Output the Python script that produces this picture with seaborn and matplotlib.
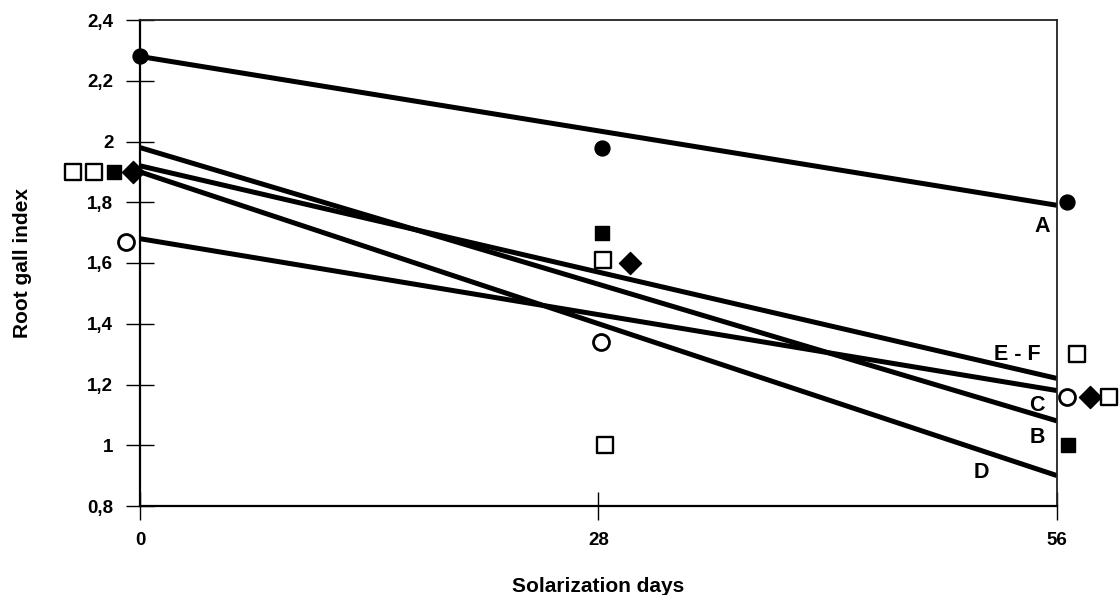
import numpy as np
import pandas as pd
import matplotlib
matplotlib.use("Agg")
import matplotlib.pyplot as plt
import seaborn as sns

# ---- data ----
days = [0, 28, 56]

# regression lines: value at day 0 and day 56
line_names = ["A", "E - F", "C", "B", "D"]
line_start = [2.28, 1.92, 1.68, 1.98, 1.90]
line_end = [1.79, 1.22, 1.18, 1.08, 0.90]

# observed means (markers), with the small horizontal display offsets (days)
circle_filled_y = [2.28, 1.98, 1.80]
circle_filled_x = [0.0, 28.2, 56.6]
square_filled_y = [1.90, 1.70, 1.00]
square_filled_x = [-1.6, 28.2, 56.7]
circle_open_y = [1.67, 1.34, 1.16]
circle_open_x = [-0.85, 28.15, 56.6]
diamond_y = [1.90, 1.60, 1.16]
diamond_x = [-0.43, 29.9, 58.0]
square_open1_y = [1.90, 1.61, 1.30]
square_open1_x = [-2.8, 28.3, 57.2]
square_open2_y = [1.90, 1.00, 1.16]
square_open2_x = [-4.1, 28.4, 59.2]

# line label positions
label_x = [55.1, 53.6, 54.8, 54.8, 51.4]
label_y = [1.72, 1.30, 1.13, 1.025, 0.91]

yticks = [0.8, 1.0, 1.2, 1.4, 1.6, 1.8, 2.0, 2.2, 2.4]
ytick_labels = ["0,8", "1", "1,2", "1,4", "1,6", "1,8", "2", "2,2", "2,4"]
xticks = [0, 28, 56]

# ---- styling ----
sns.set_style("white")
plt.rcParams["font.family"] = ["Liberation Sans", "DejaVu Sans"]
plt.rcParams["font.weight"] = "bold"
plt.rcParams["text.color"] = "black"
plt.rcParams["axes.labelcolor"] = "black"
plt.rcParams["xtick.color"] = "black"
plt.rcParams["ytick.color"] = "black"

fig = plt.figure(figsize=(11.19, 5.95), dpi=100)
ax = fig.add_axes([140 / 1119, 1 - 506 / 595, 917 / 1119, 486 / 595])

# lines
for name, s, e in zip(line_names, line_start, line_end):
    df = pd.DataFrame({"day": [days[0], days[-1]], "val": [s, e]})
    sns.lineplot(data=df, x="day", y="val", ax=ax, color="black",
                 linewidth=3.6, solid_capstyle="butt")

# markers
ms = 115
sns.scatterplot(x=circle_filled_x, y=circle_filled_y, ax=ax, marker="o",
                s=ms, color="black", edgecolor="black", linewidth=1)
sns.scatterplot(x=square_filled_x, y=square_filled_y, ax=ax, marker="s",
                s=ms * 0.9, color="black", edgecolor="black", linewidth=1)
sns.scatterplot(x=circle_open_x, y=circle_open_y, ax=ax, marker="o",
                s=ms * 1.15, facecolor="white", edgecolor="black", linewidth=2.0)
sns.scatterplot(x=diamond_x, y=diamond_y, ax=ax, marker="D",
                s=ms * 1.1, color="black", edgecolor="black", linewidth=1)
sns.scatterplot(x=square_open1_x, y=square_open1_y, ax=ax, marker="s",
                s=ms * 1.25, facecolor="white", edgecolor="black", linewidth=1.7)
sns.scatterplot(x=square_open2_x, y=square_open2_y, ax=ax, marker="s",
                s=ms * 1.25, facecolor="white", edgecolor="black", linewidth=1.7)
for c in ax.collections:
    c.set_clip_on(False)
    c.set_zorder(5)

# labels on lines
for name, lx, ly in zip(line_names, label_x, label_y):
    ax.text(lx, ly, name, ha="center", va="center", fontsize=15.5,
            fontweight="bold", color="black")

ax.set_xlim(0, 56)
ax.set_ylim(0.8, 2.4)
ax.set_yticks(yticks)
ax.set_yticklabels(ytick_labels)
ax.set_xticks(xticks)
ax.set_xticklabels([str(t) for t in xticks])

ax.tick_params(axis="y", direction="inout", length=19.5, width=1.0,
               pad=9.5, labelsize=13.5, colors="black", left=True)
ax.tick_params(axis="x", direction="inout", length=20, width=1.0,
               pad=9.0, labelsize=13.5, colors="black", bottom=True)
for lab in ax.get_xticklabels() + ax.get_yticklabels():
    lab.set_fontweight("bold")

for side in ["left", "bottom"]:
    ax.spines[side].set_linewidth(1.6)
    ax.spines[side].set_color("black")
for side in ["top", "right"]:
    ax.spines[side].set_visible(True)
    ax.spines[side].set_linewidth(1.3)
    ax.spines[side].set_color("#222222")

ax.set_xlabel("Solarization days", fontsize=15, fontweight="bold", color="black")
ax.set_ylabel("Root gall index", fontsize=15, fontweight="bold", color="black")
ax.xaxis.set_label_coords(0.5, -0.146)
ax.yaxis.set_label_coords(-0.118, 0.5)
ax.grid(False)

fig.savefig("out.png", dpi=100)
